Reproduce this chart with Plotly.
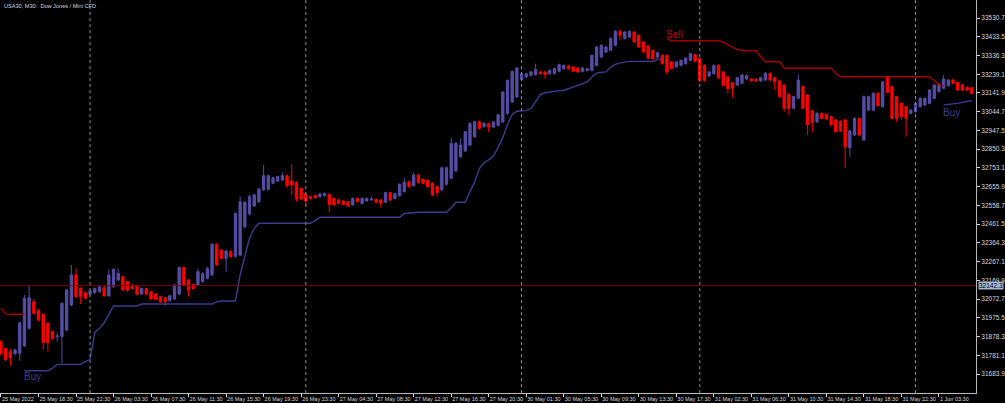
import plotly.graph_objects as go

# ---------------- DATA ----------------
opens = [31852,31817,31800,31790,31791,31830,31921,32059,32016,31994,31947,31904,31878,31878,31912,32042,32198,32128,32106,32099,
         32106,32111,32132,32090,32137,32172,32189,32163,32146,32141,32099,32128,32111,32099,32085,32080,32064,32073,32099,32237,
         32172,32149,32146,32163,32180,32198,32357,32327,32284,32319,32293,32301,32448,32514,32556,32578,32639,32642,32673,32685,
         32690,32713,32685,32678,32647,32618,32604,32609,32604,32609,32616,32595,32587,32581,32578,32561,32595,32569,32581,32587,
         32590,32587,32575,32625,32595,32609,32630,32682,32661,32716,32694,32689,32673,32656,32639,32668,32699,32737,32811,32841,
         32872,32915,32993,32967,32983,32965,32974,32991,33035,33095,33121,33213,33225,33233,33237,33251,33251,33242,33242,33254,
         33268,33282,33277,33271,33254,33259,33259,33285,33328,33354,33363,33389,33462,33424,33432,33458,33441,33406,33386,33363,
         33328,33337,33337,33303,33277,33285,33294,33311,33341,33320,33285,33230,33242,33285,33251,33225,33195,33183,33192,33214,
         33214,33213,33204,33209,33244,33221,33204,33183,33135,33062,33114,33175,33131,33050,32993,33036,33031,33019,33002,32995,
         33002,32858,32924,33010,32898,33053,33053,33140,33071,33226,33175,33123,33088,33071,33036,33045,33071,33079,33088,33114,
         33149,33166,33180,33209,33197,33183,33171,33169]
highs = [31860,31820,31815,31815,31955,32094,32141,32075,32020,32000,31955,31910,31899,32055,32125,32250,32232,32135,32112,32120,
         32133,32145,32138,32227,32232,32232,32195,32168,32150,32146,32132,32132,32116,32104,32090,32084,32094,32150,32242,32242,
         32176,32154,32232,32212,32240,32362,32362,32332,32327,32325,32522,32604,32580,32613,32618,32650,32768,32718,32708,32713,
         32730,32718,32772,32684,32652,32622,32609,32614,32622,32626,32621,32600,32592,32586,32582,32600,32600,32600,32600,32604,
         32595,32591,32630,32630,32624,32673,32702,32687,32730,32722,32699,32694,32678,32661,32760,32760,32910,32887,32907,32946,
         32990,32999,32999,32990,32988,32996,33034,33152,33212,33259,33276,33248,33247,33256,33294,33256,33255,33264,33273,33294,
         33290,33287,33282,33276,33276,33273,33342,33386,33395,33386,33430,33468,33468,33463,33467,33463,33446,33411,33391,33368,
         33356,33342,33342,33308,33308,33316,33328,33351,33346,33325,33290,33256,33290,33290,33256,33230,33200,33226,33240,33237,
         33219,33218,33226,33249,33249,33226,33209,33188,33140,33128,33239,33180,33136,33055,33045,33041,33036,33024,33007,33000,
         33007,32950,33015,33015,33128,33128,33145,33145,33205,33232,33180,33128,33093,33076,33058,33093,33119,33119,33162,33188,
         33192,33235,33214,33214,33202,33188,33176,33174]
lows = [31780,31750,31726,31780,31753,31825,31915,31990,31958,31809,31800,31860,31852,31739,31905,32035,32080,32047,32070,32095,
        32100,32106,32085,32085,32130,32165,32115,32110,32122,32090,32094,32094,32068,32066,32054,32037,32060,32068,32094,32140,
        32085,32122,32140,32158,32175,32192,32245,32278,32215,32288,32288,32295,32440,32508,32550,32572,32634,32636,32668,32680,
        32685,32647,32613,32578,32586,32561,32590,32593,32600,32604,32523,32556,32564,32559,32550,32556,32574,32564,32577,32583,
        32570,32547,32570,32582,32590,32604,32625,32650,32656,32672,32668,32650,32607,32604,32634,32662,32694,32731,32805,32835,
        32866,32910,32952,32962,32939,32960,32969,32986,33030,33090,33116,33208,33220,33228,33232,33237,33216,33237,33237,33249,
        33263,33263,33249,33246,33249,33254,33254,33280,33323,33349,33358,33384,33415,33419,33427,33400,33375,33349,33318,33315,
        33323,33289,33237,33263,33272,33280,33289,33306,33301,33200,33200,33225,33237,33215,33176,33140,33117,33178,33187,33209,
        33200,33199,33199,33204,33204,33157,33118,33045,33028,33057,33109,33057,32924,32940,32985,33005,33002,32970,32935,32940,
        32751,32811,32919,32919,32893,33048,33048,33071,33066,33140,33005,32990,33000,32915,33031,33040,33066,33074,33083,33109,
        33144,33161,33175,33187,33152,33152,33152,33135]
closes = [31788,31760,31770,31809,31950,32077,32080,31999,31964,31847,31847,31869,31881,32051,32120,32198,32085,32085,32077,32116,
          32128,32137,32090,32198,32227,32206,32120,32120,32128,32099,32128,32099,32073,32071,32059,32059,32090,32146,32237,32146,
          32120,32128,32215,32206,32232,32357,32250,32284,32322,32293,32517,32578,32575,32604,32613,32644,32713,32713,32702,32708,
          32713,32661,32664,32592,32592,32581,32595,32598,32618,32621,32564,32561,32569,32564,32556,32595,32578,32595,32595,32592,
          32575,32569,32625,32587,32619,32668,32678,32656,32716,32678,32673,32656,32613,32626,32754,32754,32881,32881,32872,32941,
          32984,32993,32958,32984,32965,32991,33029,33147,33207,33254,33271,33242,33242,33251,33263,33242,33237,33259,33268,33289,
          33285,33268,33254,33251,33271,33268,33337,33380,33389,33380,33424,33462,33441,33458,33462,33406,33380,33354,33323,33320,
          33351,33294,33251,33268,33303,33311,33323,33346,33306,33207,33207,33251,33285,33220,33181,33164,33166,33221,33235,33232,
          33206,33204,33221,33244,33209,33200,33123,33062,33062,33123,33209,33062,32976,32990,33036,33010,33007,32976,32941,32945,
          32863,32945,33010,32924,33123,33123,33140,33076,33200,33145,33010,33010,33019,33010,33053,33088,33114,33114,33157,33183,
          33187,33214,33209,33192,33157,33157,33157,33140]

tick_bars = [0, 8, 16, 24, 32, 40, 48, 56, 64, 72, 80, 88, 96, 104, 112, 120, 128, 136, 144, 152, 160, 168, 176, 184, 192, 200]
tick_labels = ["25 May 2022", "25 May 18:30", "25 May 22:30", "26 May 03:30", "26 May 07:30", "26 May 11:30",
               "26 May 15:30", "26 May 19:30", "26 May 23:30", "27 May 04:30", "27 May 08:30", "27 May 12:30",
               "27 May 16:30", "27 May 20:30", "30 May 01:30", "30 May 05:30", "30 May 09:30", "30 May 13:30",
               "30 May 17:30", "31 May 02:30", "31 May 06:30", "31 May 10:30", "31 May 14:30", "31 May 18:30",
               "31 May 22:30", "1 Jun 03:30"]
separator_bars = [19, 65, 111, 149, 195]
price_ticks = [33530.7, 33433.5, 33336.3, 33239.1, 33141.9, 33044.7, 32947.5, 32850.3, 32753.1, 32655.9,
               32558.7, 32461.5, 32364.3, 32267.1, 32169.9, 32072.7, 31975.5, 31878.3, 31781.1, 31683.9]
hline_price = 32142.3

sell1_start = 0
sell1 = [32025, 31996, 31994, 31994, 31994, 31994]
buy1_start = 5
buy1 = ([31701] * 6 + [31715] + [31734] * 6 + [31748, 31760, 31900, 31921, 31950, 31995, 32037] + [32037] * 5 +
        [32047] * 16 + [32058] + [32063] * 4 + [32200, 32300, 32390, 32440] + [32466] * 12 + [32480] + [32497] * 18 +
        [32517, 32520] + [32523] * 8 + [32545] + [32575] * 3 + [32630, 32680, 32750, 32780, 32795, 32815, 32860, 32910,
        32980, 33030, 33047, 33047, 33050, 33060, 33100, 33133, 33143, 33148, 33152, 33154, 33155, 33163, 33173, 33182,
        33190, 33199, 33225, 33245, 33249, 33251, 33275, 33290, 33298, 33303] + [33306] * 6 + [33316, 33320])
sell2_start = 142
sell2 = ([33424] + [33413] * 11 + [33405, 33390, 33378, 33368, 33362] + [33361] * 3 + [33330] + [33304] * 4 +
         [33270] * 11 + [33245] + [33226] * 20 + [33205, 33185, 33178])
buy2_start = 201
buy2 = [33080, 33082, 33085, 33088, 33093, 33098, 33102]

title_text = "USA30, M30:  Dow Jones / Mini CFD"

# ---------------- STYLE ----------------
BULL = "#564DA6"
BEAR = "#FF0000"
BUY_LINE = "#3E3B90"
SELL_LINE = "#A50000"
FG = "#D8D8D8"
FONT = "Liberation Sans"

bars = list(range(len(opens)))
fig = go.Figure()
fig.add_trace(go.Candlestick(
    x=bars, open=opens, high=highs, low=lows, close=closes,
    increasing=dict(line=dict(color=BULL, width=1), fillcolor=BULL),
    decreasing=dict(line=dict(color=BEAR, width=1), fillcolor=BEAR),
    whiskerwidth=0, hoverinfo="skip"))

for start, vals, col in [(sell1_start, sell1, SELL_LINE), (buy1_start, buy1, BUY_LINE),
                         (sell2_start, sell2, SELL_LINE), (buy2_start, buy2, BUY_LINE)]:
    fig.add_trace(go.Scatter(x=list(range(start, start + len(vals))), y=vals, mode="lines",
                             line=dict(color=col, width=1.4), hoverinfo="skip"))

shapes = []
for b in separator_bars:
    shapes.append(dict(type="line", xref="x", yref="paper", x0=b, x1=b, y0=0, y1=1,
                       line=dict(color="#8C8C8C", width=1, dash="dot")))
shapes.append(dict(type="line", xref="paper", yref="y", x0=0, x1=1, y0=hline_price, y1=hline_price,
                   line=dict(color="#7A0000", width=1)))

annotations = [
    dict(xref="paper", yref="paper", x=0.002, y=0.998, xanchor="left", yanchor="top", text=title_text,
         showarrow=False, font=dict(size=5.6, color=FG, family=FONT)),
    dict(x=143.6, y=33447, text="Sell", showarrow=False, font=dict(size=10, color="#C80000", family=FONT)),
    dict(x=6.8, y=31672, text="Buy", showarrow=False, font=dict(size=10, color=BUY_LINE, family=FONT)),
    dict(x=202.6, y=33041, text="Buy", showarrow=False, font=dict(size=10, color=BUY_LINE, family=FONT)),
    dict(xref="paper", yref="y", x=1.0, y=hline_price, xanchor="left", yanchor="middle",
         text=f"{hline_price:.1f}", showarrow=False, bgcolor="#A6B4CC", borderpad=0, xshift=2,
         font=dict(size=6.5, color="#000000", family=FONT)),
]

fig.update_layout(
    width=1005, height=403, margin=dict(l=0, r=29, t=0, b=10, autoexpand=False),
    paper_bgcolor="black", plot_bgcolor="black", showlegend=False,
    font=dict(family=FONT, color=FG, size=6),
    shapes=shapes, annotations=annotations,
    xaxis=dict(range=[-0.21, 207.9], tickvals=tick_bars, ticktext=tick_labels, ticks="outside", ticklen=3,
               tickangle=0, automargin=False,
               tickcolor=FG, showgrid=False, zeroline=False, showline=True, linecolor="#B8B8B8", linewidth=1,
               mirror=True, rangeslider=dict(visible=False), ticklabelposition="outside right",
               tickfont=dict(size=5.5, color=FG, family=FONT)),
    yaxis=dict(range=[31585.6, 33624.1], side="right", tickvals=price_ticks, automargin=False,
               ticktext=[f"{v:.1f}" for v in price_ticks], ticks="outside", ticklen=3, tickcolor=FG,
               showgrid=False, zeroline=False, showline=True, linecolor="#B8B8B8", linewidth=1, mirror=True,
               tickfont=dict(size=6.5, color=FG, family=FONT)),
)

fig.write_html("out.html", config={"displayModeBar": False},
               post_script="document.body.style.margin='0';document.body.style.overflow='hidden';")
